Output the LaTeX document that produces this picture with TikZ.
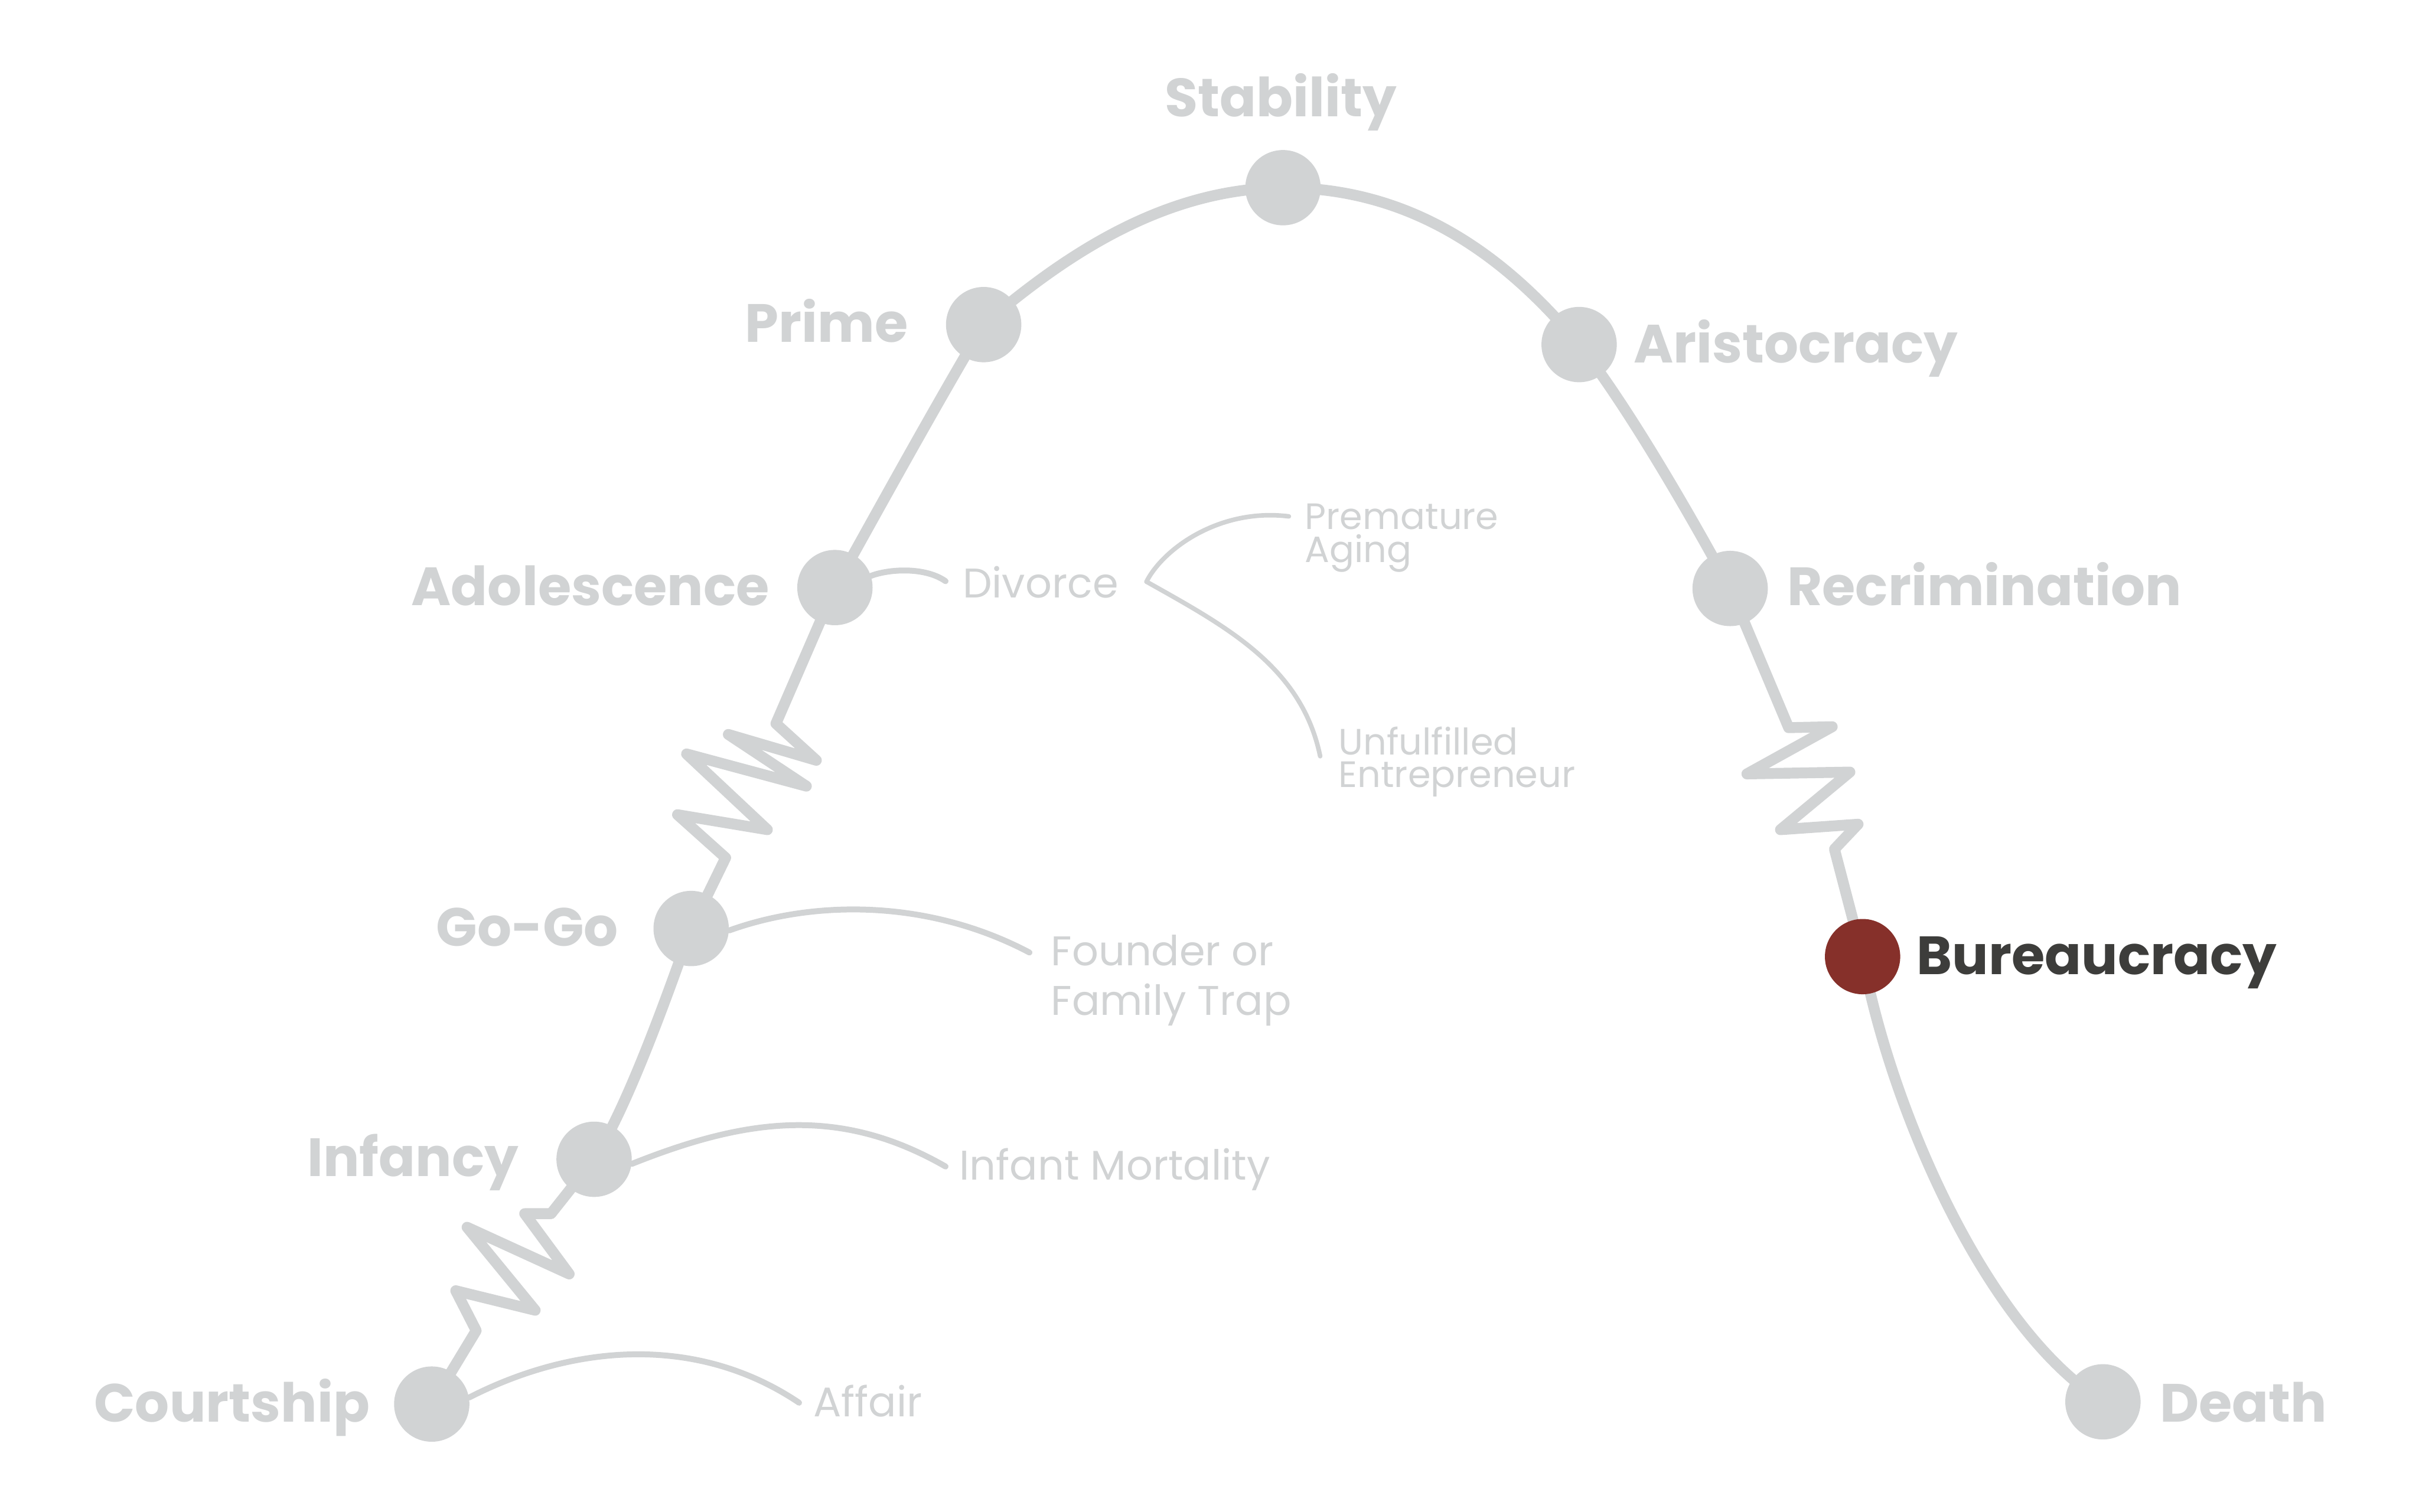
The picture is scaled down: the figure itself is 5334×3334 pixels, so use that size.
\documentclass[tikz,border=0pt]{standalone}
\usepackage{fontspec}
\setmainfont{Poppins}
\usetikzlibrary{backgrounds}
\definecolor{lgray}{HTML}{D1D3D4}
\definecolor{bred}{HTML}{86302A}
\definecolor{dtext}{HTML}{3D3D3B}
\tikzset{
  stage/.style={circle, fill=lgray, inner sep=0pt, minimum size=1.66cm},
  mainline/.style={draw=lgray, line width=0.24cm, line join=round, line cap=round},
  sideline/.style={draw=lgray, line width=0.13cm, line cap=round},
  thinline/.style={draw=lgray, line width=0.10cm, line cap=round},
  biglabel/.style={inner sep=0pt, text=lgray, font=\fontsize{33.8}{38}\selectfont\bfseries},
  smalllabel/.style={inner sep=0pt, text=lgray, font=\fontsize{26}{31}\selectfont},
  tinylabel/.style={inner sep=0pt, text=lgray, font=\fontsize{23}{26}\selectfont},
}
\begin{document}
\begin{tikzpicture}[x=0.01cm, y=-0.01cm]
\useasboundingbox (0,0) rectangle (5334,3334);
% stage circles
\node[stage] (courtship) at (952,3097) {};
\node[stage] (infancy) at (1310,2557) {};
\node[stage] (gogo) at (1524,2048) {};
\node[stage] (adolescence) at (1841,1296) {};
\node[stage] (prime) at (2169,716) {};
\node[stage] (stability) at (2829,414) {};
\node[stage] (aristocracy) at (3482,760) {};
\node[stage] (recrimination) at (3815,1298) {};
\node[stage, fill=bred] (bureaucracy) at (4107,2110) {};
\node[stage] (death) at (4637,3092) {};
% zigzag corners
\coordinate (k1) at (1050,2935);
\coordinate (k2) at (1005,2847);
\coordinate (k3) at (1180,2890);
\coordinate (k4) at (1030,2707);
\coordinate (k5) at (1255,2810);
\coordinate (k6) at (1157,2677);
\coordinate (k7) at (1215,2677);
\coordinate (u1) at (1600,1892);
\coordinate (u2) at (1494,1797);
\coordinate (u3) at (1692,1830);
\coordinate (u4) at (1514,1663);
\coordinate (u5) at (1778,1734);
\coordinate (u6) at (1606,1620);
\coordinate (u7) at (1800,1677);
\coordinate (u8) at (1711,1596);
\coordinate (r1) at (3944,1605);
\coordinate (r2) at (4040,1603);
\coordinate (r3) at (3852,1707);
\coordinate (r4) at (4079,1703);
\coordinate (r5) at (3926,1830);
\coordinate (r6) at (4097,1818);
\coordinate (r7) at (4045,1873);
% side curve ends
\coordinate (affairend) at (1762,3094);
\coordinate (infantend) at (2085,2573);
\coordinate (founderend) at (2270,2101);
\coordinate (divorceend) at (2085,1282);
\coordinate (vpoint) at (2528,1283);
\coordinate (prematureend) at (2842,1139);
\coordinate (unfulfilledend) at (2911,1668);
% labels
\node[biglabel, anchor=base east] (lcourtship) at (816,3137) {Courtship};
\node[biglabel, anchor=base east] (linfancy) at (1144,2595) {Infancy};
\node[biglabel, anchor=base east] (lgogo) at (1364,2087) {Go-Go};
\node[biglabel, anchor=base east] (ladolescence) at (1697,1335) {Adolescence};
\node[biglabel, anchor=base east] (lprime) at (2003,755) {Prime};
\node[biglabel, anchor=base] (lstability) at (2824,257) {Stability};
\node[biglabel, anchor=base west] (laristocracy) at (3602,800) {Aristocracy};
\node[biglabel, anchor=base west] (lrecrimination) at (3940,1336) {Recrimination};
\node[biglabel, anchor=base west, text=dtext] (lbureaucracy) at (4226,2149) {Bureaucracy};
\node[biglabel, anchor=base west] (ldeath) at (4762,3137) {Death};
\node[smalllabel, anchor=base west] (laffair) at (1793,3125) {Affair};
\node[smalllabel, anchor=base west] (linfant) at (2115,2603) {Infant Mortality};
\node[smalllabel, anchor=base west] (lfounder1) at (2317,2130) {Founder or};
\node[smalllabel, anchor=base west] (lfounder2) at (2317,2239) {Family Trap};
\node[smalllabel, anchor=base west] (ldivorce) at (2122,1319) {Divorce};
\node[tinylabel, anchor=base west] (lpremature1) at (2877,1168) {Premature};
\node[tinylabel, anchor=base west] (lpremature2) at (2877,1241) {Aging};
\node[tinylabel, anchor=base west] (lunfulfilled1) at (2951,1665) {Unfulfilled};
\node[tinylabel, anchor=base west] (lunfulfilled2) at (2951,1737) {Entrepreneur};
\begin{scope}[on background layer]
\draw[mainline] (courtship.center) -- (k1) -- (k2) -- (k3) -- (k4) -- (k5) -- (k6) -- (k7) -- (infancy.center)
  .. controls (1390,2430) and (1480,2170) .. (gogo.center)
  -- (u1) -- (u2) -- (u3) -- (u4) -- (u5) -- (u6) -- (u7) -- (u8) -- (adolescence.center)
  .. controls (1950,1100) and (2060,900) .. (prime.center)
  .. controls (2340,570) and (2560,416) .. (stability.center)
  .. controls (3110,414) and (3316,560) .. (aristocracy.center)
  .. controls (3592,900) and (3735,1150) .. (recrimination.center)
  -- (r1) -- (r2) -- (r3) -- (r4) -- (r5) -- (r6) -- (r7) -- (bureaucracy.center)
  .. controls (4170,2450) and (4380,2930) .. (death.center);
\draw[sideline] (courtship.10) .. controls (1270,2962) and (1541,2945) .. (affairend);
\draw[sideline] (infancy.-7) .. controls (1644,2467) and (1850,2438) .. (infantend);
\draw[sideline] (gogo.-3) .. controls (1797,1984) and (2049,1984) .. (founderend);
\draw[sideline] (adolescence.18) .. controls (1960,1255) and (2040,1250) .. (divorceend);
\draw[thinline] (vpoint) .. controls (2565,1210) and (2690,1120) .. (prematureend);
\draw[thinline] (vpoint) .. controls (2704,1382) and (2870,1470) .. (unfulfilledend);
\end{scope}
\end{tikzpicture}
\end{document}
